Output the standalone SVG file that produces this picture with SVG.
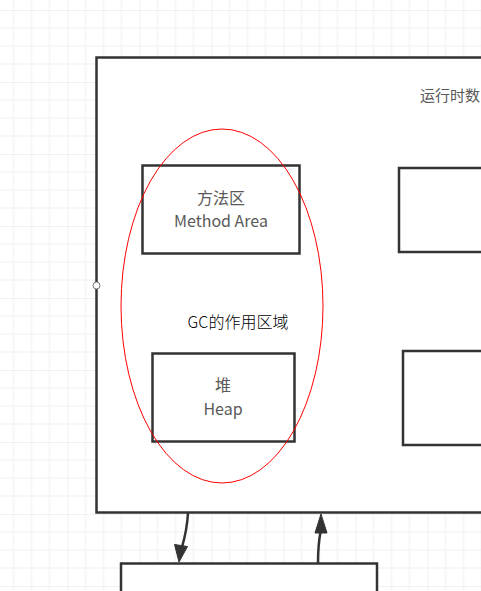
<svg xmlns="http://www.w3.org/2000/svg" width="481" height="591" viewBox="0 0 481 591">
<defs>
<style>
.box{fill:#fff;stroke:#333;stroke-width:2.5}
.lbl{font-family:"Noto Sans CJK SC","Liberation Sans",sans-serif;font-size:16px;fill:#595959;text-anchor:middle}
.conn{fill:none;stroke:#333;stroke-width:2.5}
.head{fill:#333;stroke:#333;stroke-width:1;stroke-linejoin:round}
</style>
<pattern id="grid" x="-4.5" y="10" width="72" height="72" patternUnits="userSpaceOnUse">
<path d="M18 0V72M36 0V72M54 0V72M0 18H72M0 36H72M0 54H72" stroke="#efefef" stroke-width="1" fill="none"/>
<path d="M0 0V72M0 0H72" stroke="#e4e4e4" stroke-width="1" fill="none"/>
</pattern>
</defs>
<rect width="481" height="591" fill="#fff"/>
<rect width="481" height="591" fill="url(#grid)"/>
<g id="runtime">
<rect class="box" x="96.5" y="57.5" width="420" height="455"/>
<text x="420" y="101" font-family="&quot;Noto Sans CJK SC&quot;,sans-serif" font-size="15" fill="#595959">运行时数</text>
<circle cx="96.5" cy="285.5" r="3.5" fill="#fff" stroke="#777" stroke-width="1"/>
</g>
<g id="method-area">
<rect class="box" x="142.5" y="165.5" width="157" height="88"/>
<text class="lbl" x="221" y="204">方法区</text>
<text class="lbl" x="221" y="227">Method Area</text>
</g>
<g id="heap">
<rect class="box" x="152.5" y="353.5" width="142" height="88"/>
<text class="lbl" x="223" y="391">堆</text>
<text class="lbl" x="223" y="415">Heap</text>
</g>
<g id="right-box-1">
<rect class="box" x="399" y="168" width="120" height="84"/>
</g>
<g id="right-box-2">
<rect class="box" x="403" y="351" width="120" height="94"/>
</g>
<g id="bottom-box">
<rect class="box" x="121" y="563.5" width="256" height="60"/>
</g>
<g id="gc-area">
<ellipse cx="222" cy="306" rx="101" ry="177" fill="none" stroke="#f00" stroke-width="1"/>
<text x="238" y="328" font-family="&quot;Noto Sans CJK SC&quot;,sans-serif" font-size="16" font-weight="300" fill="#000" text-anchor="middle">GC的作用区域</text>
</g>
<g id="connectors">
<path class="conn" d="M188 513Q187 530 182 547"/>
<polygon class="head" points="179,562 174.5,544.5 187.5,546.5"/>
<path class="conn" d="M318 563Q318 545 320.5 532"/>
<polygon class="head" points="321,514 315,533 327,533"/>
</g>
</svg>
